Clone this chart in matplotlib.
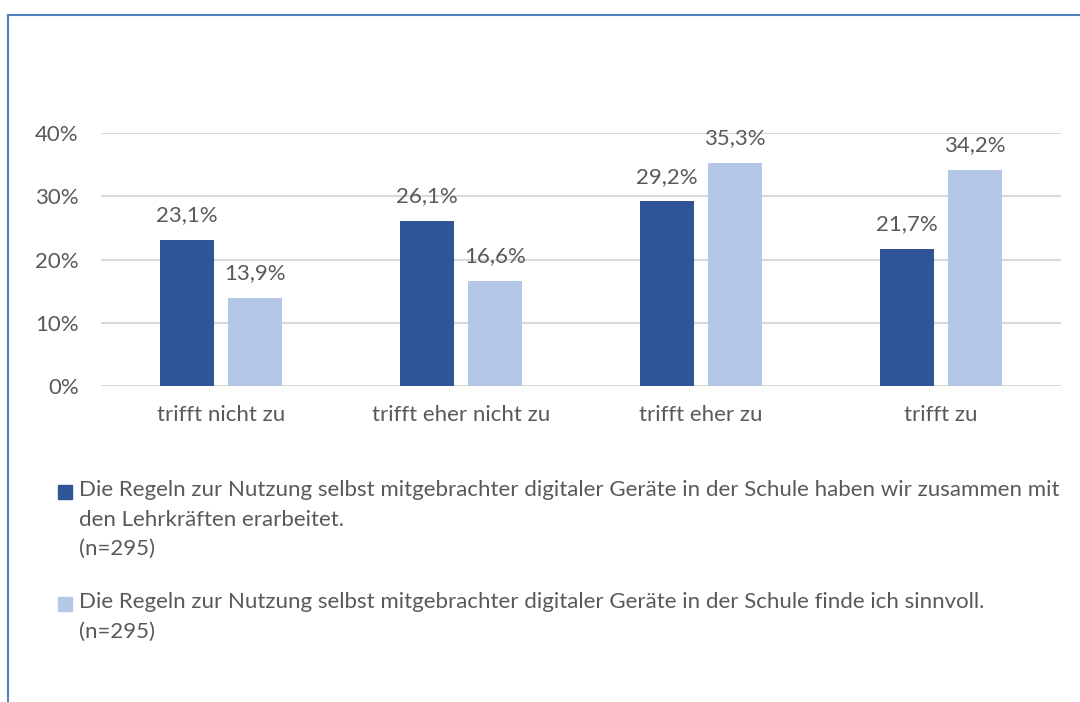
import matplotlib.pyplot as plt
from matplotlib.patches import Rectangle
import numpy as np

plt.rcParams["font.family"] = ["Lato", "DejaVu Sans"]

categories = ["trifft nicht zu", "trifft eher nicht zu", "trifft eher zu", "trifft zu"]
series_regeln_erarbeitet = [23.1, 26.1, 29.2, 21.7]
series_regeln_sinnvoll = [13.9, 16.6, 35.3, 34.2]
yticks = [0, 10, 20, 30, 40]

legend_1 = ("Die Regeln zur Nutzung selbst mitgebrachter digitaler Geräte in der Schule haben wir zusammen mit\n"
            "den Lehrkräften erarbeitet.\n(n=295)")
legend_2 = ("Die Regeln zur Nutzung selbst mitgebrachter digitaler Geräte in der Schule finde ich sinnvoll.\n"
            "(n=295)")

DARK = "#2F5597"
LIGHT = "#B4C7E7"
TXT = "#595959"
FS = 16

fig = plt.figure(figsize=(10.8, 7.02), dpi=100)
ax = fig.add_axes([101 / 1080, 1 - 386 / 702, 960 / 1080, 253 / 702])

x = np.arange(len(categories))
w = 0.225
off = 0.1417
ax.bar(x - off, series_regeln_erarbeitet, w, color=DARK, zorder=3)
ax.bar(x + off, series_regeln_sinnvoll, w, color=LIGHT, zorder=3)

for xi, v in zip(x - off, series_regeln_erarbeitet):
    ax.text(xi, v + 3.9, f"{v:.1f}%".replace(".", ","), ha="center", va="center", fontsize=FS, color=TXT)
for xi, v in zip(x + off, series_regeln_sinnvoll):
    ax.text(xi, v + 3.9, f"{v:.1f}%".replace(".", ","), ha="center", va="center", fontsize=FS, color=TXT)

ax.set_xlim(-0.5, 3.5)
ax.set_ylim(0, 40)
ax.set_yticks(yticks)
ax.set_yticklabels([f"{t}%" for t in yticks])
ax.set_xticks(x)
ax.set_xticklabels(categories)
ax.tick_params(axis="both", length=0, labelsize=FS, labelcolor=TXT)
ax.tick_params(axis="y", pad=16)
ax.tick_params(axis="x", pad=14)
ax.grid(axis="y", color="#D9D9D9", linewidth=1.5, zorder=0)
for s in ax.spines.values():
    s.set_visible(False)

# legend drawn by hand to mimic the multi-line entries
fig.patches.append(Rectangle((58 / 1080, 1 - 499 / 702), 14 / 1080, 14 / 702,
                             transform=fig.transFigure, color=DARK))
fig.text(79 / 1080, 1 - 480 / 702, legend_1, ha="left", va="top", fontsize=FS, color=TXT, linespacing=1.6)
fig.patches.append(Rectangle((58 / 1080, 1 - 611 / 702), 14 / 1080, 14 / 702,
                             transform=fig.transFigure, color=LIGHT))
fig.text(79 / 1080, 1 - 592 / 702, legend_2, ha="left", va="top", fontsize=FS, color=TXT, linespacing=1.6)

# frame lines (top and left)
fig.add_artist(plt.Line2D([8 / 1080, 1], [1 - 15 / 702, 1 - 15 / 702], color="#4F81BD", lw=1.5,
                          transform=fig.transFigure))
fig.add_artist(plt.Line2D([8 / 1080, 8 / 1080], [1 - 15 / 702, 0], color="#4F81BD", lw=1.5,
                          transform=fig.transFigure))

fig.savefig("out.png", dpi=100)
